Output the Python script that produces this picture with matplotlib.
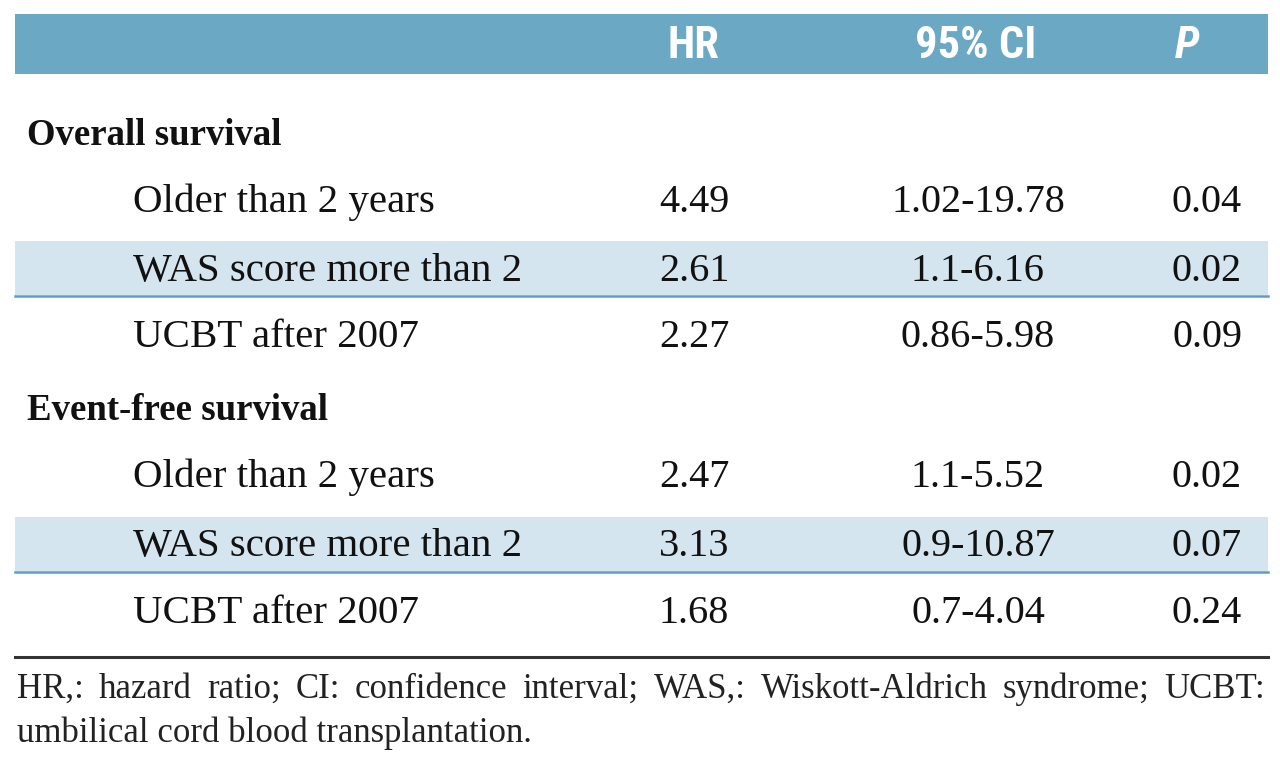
import matplotlib.pyplot as plt
from matplotlib.patches import Rectangle
from matplotlib import font_manager

# table content
headers = ["HR", "95% CI", "P"]
sections = ["Overall survival", "Event-free survival"]
factors = ["Older than 2 years", "WAS score more than 2", "UCBT after 2007"]
hr_os = ["4.49", "2.61", "2.27"]
ci_os = ["1.02-19.78", "1.1-6.16", "0.86-5.98"]
p_os = ["0.04", "0.02", "0.09"]
hr_efs = ["2.47", "3.13", "1.68"]
ci_efs = ["1.1-5.52", "0.9-10.87", "0.7-4.04"]
p_efs = ["0.02", "0.07", "0.24"]
footnote = ["HR,: hazard ratio; CI: confidence interval; WAS,: Wiskott-Aldrich syndrome; UCBT:",
            "umbilical cord blood transplantation."]

head_col = "#6aa8c4"
shade_col = "#d4e5ef"
rule_col = "#5a9fc0"
serif = ["Liberation Serif", "DejaVu Serif"]

# pick a narrow sans for the header if one is there
names = {f.name for f in font_manager.fontManager.ttflist}
narrow = "DejaVu Sans"
for cand in ["Roboto Condensed", "Liberation Sans Narrow", "DejaVu Sans Condensed", "Open Sans Condensed"]:
    if cand in names:
        narrow = cand
        break
head_size = 32 if narrow != "DejaVu Sans" else 25

fig = plt.figure(figsize=(12.8, 7.7), dpi=100)
ax = fig.add_axes([0, 0, 1, 1])
ax.set_xlim(0, 1280)
ax.set_ylim(770, 0)
ax.axis("off")

# header band
ax.add_patch(Rectangle((15, 14), 1253, 60, color=head_col, lw=0))
col_x = [694, 978, 1207]
ax.text(col_x[0], 58, headers[0], color="white", fontsize=head_size, fontweight="bold",
        family=narrow, stretch="condensed", ha="center", va="baseline")
ax.text(976, 58, headers[1], color="white", fontsize=head_size, fontweight="bold",
        family=narrow, stretch="condensed", ha="center", va="baseline")
ax.text(1187, 58, headers[2], color="white", fontsize=head_size, fontweight="bold",
        style="italic", family=narrow, stretch="condensed", ha="center", va="baseline")

section_base = [145, 420]
row_base = [[212, 281, 347], [487, 556, 623]]
shade_top = [241, 517]
data = [(hr_os, ci_os, p_os), (hr_efs, ci_efs, p_efs)]

for s in range(2):
    ax.add_patch(Rectangle((15, shade_top[s]), 1253, 54, color=shade_col, lw=0))
    ax.plot([15, 1268], [shade_top[s] + 55, shade_top[s] + 55], color=rule_col, lw=1.8)
    ax.text(27, section_base[s], sections[s], fontsize=26.5, fontweight="bold",
            family=serif, ha="left", va="baseline", color="#111111")
    hr, ci, p = data[s]
    for i in range(3):
        y = row_base[s][i]
        ax.text(133, y, factors[i], fontsize=29.5, family=serif, ha="left",
                va="baseline", color="#111111")
        ax.text(col_x[0], y, hr[i], fontsize=29, family=serif, ha="center",
                va="baseline", color="#111111")
        ax.text(col_x[1], y, ci[i], fontsize=29, family=serif, ha="center",
                va="baseline", color="#111111")
        ax.text(col_x[2], y, p[i], fontsize=29, family=serif, ha="center",
                va="baseline", color="#111111")

# bottom rule
ax.plot([15, 1268], [657, 657], color="#333333", lw=2.2)

# footnote, first line justified
fig.canvas.draw()
renderer = fig.canvas.get_renderer()
words = footnote[0].split(" ")
objs = [ax.text(0, 698, w, fontsize=25, family=serif, ha="left", va="baseline",
                color="#222222") for w in words]
widths = [o.get_window_extent(renderer).width for o in objs]
gap = (1265 - 17 - sum(widths)) / (len(words) - 1)
x = 17
for o, w in zip(objs, widths):
    o.set_x(x)
    x += w + gap
ax.text(17, 742, footnote[1], fontsize=25, family=serif, ha="left", va="baseline",
        color="#222222")

fig.savefig("out.png", dpi=100)
